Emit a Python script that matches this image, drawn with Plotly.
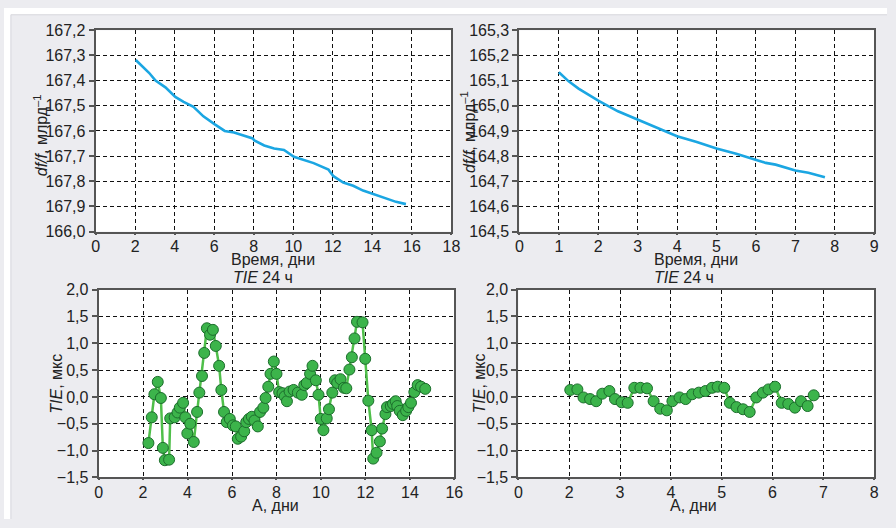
import plotly.graph_objects as go

# ---------------- data ----------------
# Top-left: df/f vs time (days); y axis is drawn reversed (167.2 at top, 168.0 at bottom)
tl_x = [2.03, 2.28, 2.7, 3.03, 3.53, 4.03, 4.45, 4.95, 5.45, 6.03, 6.53, 7.0, 7.53, 7.95, 8.03,
        8.53, 9.03, 9.53, 10.03, 10.53, 11.03, 11.78, 12.03, 12.53, 13.03, 13.53, 14.03, 14.7, 15.2, 15.7]
tl_y = [167.318, 167.337, 167.369, 167.400, 167.427, 167.465, 167.485, 167.504, 167.542, 167.574,
        167.600, 167.606, 167.619, 167.630, 167.638, 167.658, 167.670, 167.676, 167.703, 167.715,
        167.728, 167.754, 167.780, 167.805, 167.818, 167.837, 167.850, 167.869, 167.882, 167.891]
tl_xticks = [0, 2, 4, 6, 8, 10, 12, 14, 16, 18]
tl_yticks = [167.2, 167.3, 167.4, 167.5, 167.6, 167.7, 167.8, 167.9, 168.0]
tl_ytext = ["167,2", "167,3", "167,4", "167,5", "167,6", "167,7", "167,8", "167,9", "166,0"]

# Top-right: df/f vs time (days)
tr_x = [1.0, 1.25, 1.5, 2.0, 2.5, 3.0, 3.5, 4.0, 4.5, 5.0, 5.5, 6.0, 6.25, 6.5, 7.0, 7.33, 7.75]
tr_y = [165.133, 165.097, 165.068, 165.020, 164.978, 164.944, 164.912, 164.879, 164.856, 164.830,
        164.809, 164.786, 164.773, 164.766, 164.743, 164.734, 164.716]
tr_xticks = [0, 1, 2, 3, 4, 5, 6, 7, 8, 9]
tr_yticks = [164.5, 164.6, 164.7, 164.8, 164.9, 165.0, 165.1, 165.2, 165.3]
tr_ytext = ["164,5", "164,6", "164,7", "164,8", "164,9", "165,0", "165,1", "165,2", "165,3"]

# Bottom-left: TIE (us) vs days
bl_x = [2.24, 2.39, 2.51, 2.66, 2.80, 2.89, 2.98, 3.17, 3.22, 3.42, 3.55, 3.65, 3.80, 3.90, 3.99,
        4.12, 4.28, 4.43, 4.53, 4.65, 4.75, 4.87, 5.01, 5.14, 5.27, 5.42, 5.52, 5.64, 5.76, 5.90,
        6.04, 6.17, 6.26, 6.41, 6.55, 6.64, 6.76, 6.89, 7.01, 7.16, 7.26, 7.41, 7.51, 7.63, 7.73,
        7.88, 8.00, 8.12, 8.27, 8.37, 8.47, 8.59, 8.77, 8.96, 9.14, 9.25, 9.36, 9.51, 9.62, 9.77,
        9.89, 9.99, 10.11, 10.26, 10.36, 10.51, 10.63, 10.73, 10.88, 11.03, 11.14, 11.28, 11.39,
        11.51, 11.62, 11.87, 11.99, 12.13, 12.28, 12.35, 12.50, 12.65, 12.75, 12.90, 12.97, 13.14,
        13.24, 13.36, 13.43, 13.54, 13.68, 13.83, 13.93, 14.05, 14.20, 14.35, 14.50, 14.69]
bl_y = [-0.86, -0.38, 0.05, 0.28, -0.02, -0.95, -1.18, -1.17, -0.40, -0.38, -0.29, -0.20, -0.11,
        -0.38, -0.68, -0.50, -0.84, -0.28, 0.08, 0.39, 0.82, 1.28, 1.16, 1.25, 0.95, 0.58, 0.13,
        -0.28, -0.47, -0.41, -0.53, -0.55, -0.78, -0.74, -0.64, -0.47, -0.41, -0.37, -0.44, -0.55,
        -0.28, -0.20, -0.02, 0.19, 0.43, 0.66, 0.43, 0.09, 0.07, 0.01, -0.08, 0.10, 0.13, 0.08,
        0.04, 0.22, 0.26, 0.43, 0.58, 0.31, 0.04, -0.41, -0.62, -0.40, -0.23, 0.08, 0.31, 0.26,
        0.33, 0.17, 0.16, 0.51, 0.74, 1.09, 1.40, 1.39, 0.71, -0.07, -0.62, -1.15, -1.04, -0.83,
        -0.59, -0.32, -0.19, -0.17, -0.13, -0.08, -0.17, -0.26, -0.34, -0.26, -0.19, -0.11, 0.09,
        0.22, 0.19, 0.15]
bl_xticks = [0, 2, 4, 6, 8, 10, 12, 14, 16]

# Bottom-right: TIE (us) vs days; x axis spans 1..8 with first label "0"
br_x = [2.02, 2.16, 2.28, 2.41, 2.53, 2.65, 2.79, 2.90, 3.03, 3.15, 3.28, 3.40, 3.53, 3.66, 3.79,
        3.92, 4.03, 4.17, 4.29, 4.42, 4.55, 4.68, 4.81, 4.92, 5.05, 5.16, 5.29, 5.42, 5.55, 5.68,
        5.81, 5.92, 6.05, 6.18, 6.31, 6.44, 6.56, 6.69, 6.81]
br_y = [0.13, 0.14, -0.01, -0.04, -0.08, 0.06, 0.11, -0.04, -0.10, -0.11, 0.17, 0.17, 0.16, -0.08,
        -0.22, -0.25, -0.08, -0.01, -0.04, 0.05, 0.08, 0.11, 0.17, 0.19, 0.17, -0.11, -0.19, -0.23,
        -0.28, -0.01, 0.08, 0.14, 0.19, -0.11, -0.13, -0.20, -0.08, -0.17, 0.03]
br_xticks = [1, 2, 3, 4, 5, 6, 7, 8]
br_xtext = ["0", "2", "3", "4", "5", "6", "7", "8"]

tie_yticks = [-1.5, -1.0, -0.5, 0.0, 0.5, 1.0, 1.5, 2.0]
tie_ytext = ["−1,5", "−1,0", "−0,5", "0,0", "0,5", "1,0", "1,5", "2,0"]

# ---------------- styling ----------------
W, H = 896, 528
FONT = "Liberation Sans, Arial, sans-serif"
BLUE = "#1ba6e2"
GREEN_LINE = "#4fbf4a"
GREEN_FILL = "#3cb44b"
GREEN_EDGE = "#1c6e2c"
GRAY_BG = "#ececf0"
AXIS = "#555555"
TXT = "#222222"


def px_x(p):
    return p / W


def px_y(p):
    return 1 - p / H


fig = go.Figure()

fig.add_trace(go.Scatter(x=tl_x, y=tl_y, mode="lines", line=dict(color=BLUE, width=2.6),
                         xaxis="x", yaxis="y", showlegend=False))
fig.add_trace(go.Scatter(x=tr_x, y=tr_y, mode="lines", line=dict(color=BLUE, width=2.6),
                         xaxis="x2", yaxis="y2", showlegend=False))
fig.add_trace(go.Scatter(x=bl_x, y=bl_y, mode="lines+markers",
                         line=dict(color=GREEN_LINE, width=2.5),
                         marker=dict(size=11, color=GREEN_FILL, line=dict(color=GREEN_EDGE, width=1)),
                         xaxis="x3", yaxis="y3", showlegend=False))
fig.add_trace(go.Scatter(x=br_x, y=br_y, mode="lines+markers",
                         line=dict(color=GREEN_LINE, width=2.5),
                         marker=dict(size=11, color=GREEN_FILL, line=dict(color=GREEN_EDGE, width=1)),
                         xaxis="x4", yaxis="y4", showlegend=False))

base = dict(showline=True, linecolor=AXIS, linewidth=2, mirror=True,
            showgrid=True, gridcolor="#111111", gridwidth=1.2, griddash="4px,3px",
            zeroline=False, ticks="outside", tickcolor=AXIS, tickwidth=1.5,
            tickfont=dict(family=FONT, size=16, color=TXT), fixedrange=True)
xcommon = dict(base, ticklen=1, ticklabelstandoff=-2)
ycommon = dict(base, ticklen=5)

top_y = [px_y(231), px_y(23)]
bot_y = [px_y(485), px_y(291)]

fig.update_layout(
    width=W, height=H,
    margin=dict(l=0, r=0, t=0, b=0),
    paper_bgcolor=GRAY_BG, plot_bgcolor="white",
    font=dict(family=FONT, size=16, color=TXT),
    xaxis=dict(domain=[px_x(93), px_x(454)], anchor="y", range=[0, 18],
               tickmode="array", tickvals=tl_xticks, **xcommon),
    yaxis=dict(domain=top_y, anchor="x", range=[168.0, 167.2],
               tickmode="array", tickvals=tl_yticks, ticktext=tl_ytext, **ycommon),
    xaxis2=dict(domain=[px_x(523), px_x(883)], anchor="y2", range=[0, 9],
                tickmode="array", tickvals=tr_xticks, **xcommon),
    yaxis2=dict(domain=top_y, anchor="x2", range=[164.5, 165.3],
                tickmode="array", tickvals=tr_yticks, ticktext=tr_ytext, **ycommon),
    xaxis3=dict(domain=[px_x(96), px_x(457)], anchor="y3", range=[0, 16],
                tickmode="array", tickvals=bl_xticks, **xcommon),
    yaxis3=dict(domain=bot_y, anchor="x3", range=[-1.5, 2.0],
                tickmode="array", tickvals=tie_yticks, ticktext=tie_ytext, **ycommon),
    xaxis4=dict(domain=[px_x(522), px_x(883)], anchor="y4", range=[1, 8],
                tickmode="array", tickvals=br_xticks, ticktext=br_xtext, **xcommon),
    yaxis4=dict(domain=bot_y, anchor="x4", range=[-1.5, 2.0],
                tickmode="array", tickvals=tie_yticks, ticktext=tie_ytext, **ycommon),
)

# white strips at top and left of the gray panel
fig.add_shape(type="rect", xref="paper", yref="paper", x0=0, x1=1, y0=px_y(7), y1=1,
              fillcolor="white", line=dict(width=0), layer="below")
fig.add_shape(type="rect", xref="paper", yref="paper", x0=0, x1=px_x(7), y0=0, y1=1,
              fillcolor="white", line=dict(width=0), layer="below")
fig.add_shape(type="line", xref="paper", yref="paper", x0=px_x(7), x1=1, y0=px_y(7), y1=px_y(7),
              line=dict(color="#d6d6dc", width=1))
fig.add_shape(type="line", xref="paper", yref="paper", x0=px_x(7), x1=px_x(7), y0=0, y1=px_y(7),
              line=dict(color="#d6d6dc", width=1))

ann_font = dict(family=FONT, size=16, color=TXT)


def label(text, xpx, ypx, angle=0):
    fig.add_annotation(text=text, xref="paper", yref="paper", x=px_x(xpx), y=px_y(ypx),
                       xanchor="center", yanchor="middle", showarrow=False,
                       textangle=angle, font=ann_font)


label("Время, дни", 273, 260)
label("Время, дни", 702, 260)
label("<i>TIE</i> 24 ч", 263, 278)
label("<i>TIE</i> 24 ч", 690, 278)
label("А, дни", 275, 514)
label("А, дни", 700, 514)
label("<i>df/f</i>, млрд<sup>–1</sup>", 37, 131, -90)
label("<i>df/f</i>, млрд<sup>–1</sup>", 471, 128, -90)
label("<i>TIE</i>, мкс", 53, 388, -90)
label("<i>TIE</i>, мкс", 483, 388, -90)

fig.write_html("out.html")
